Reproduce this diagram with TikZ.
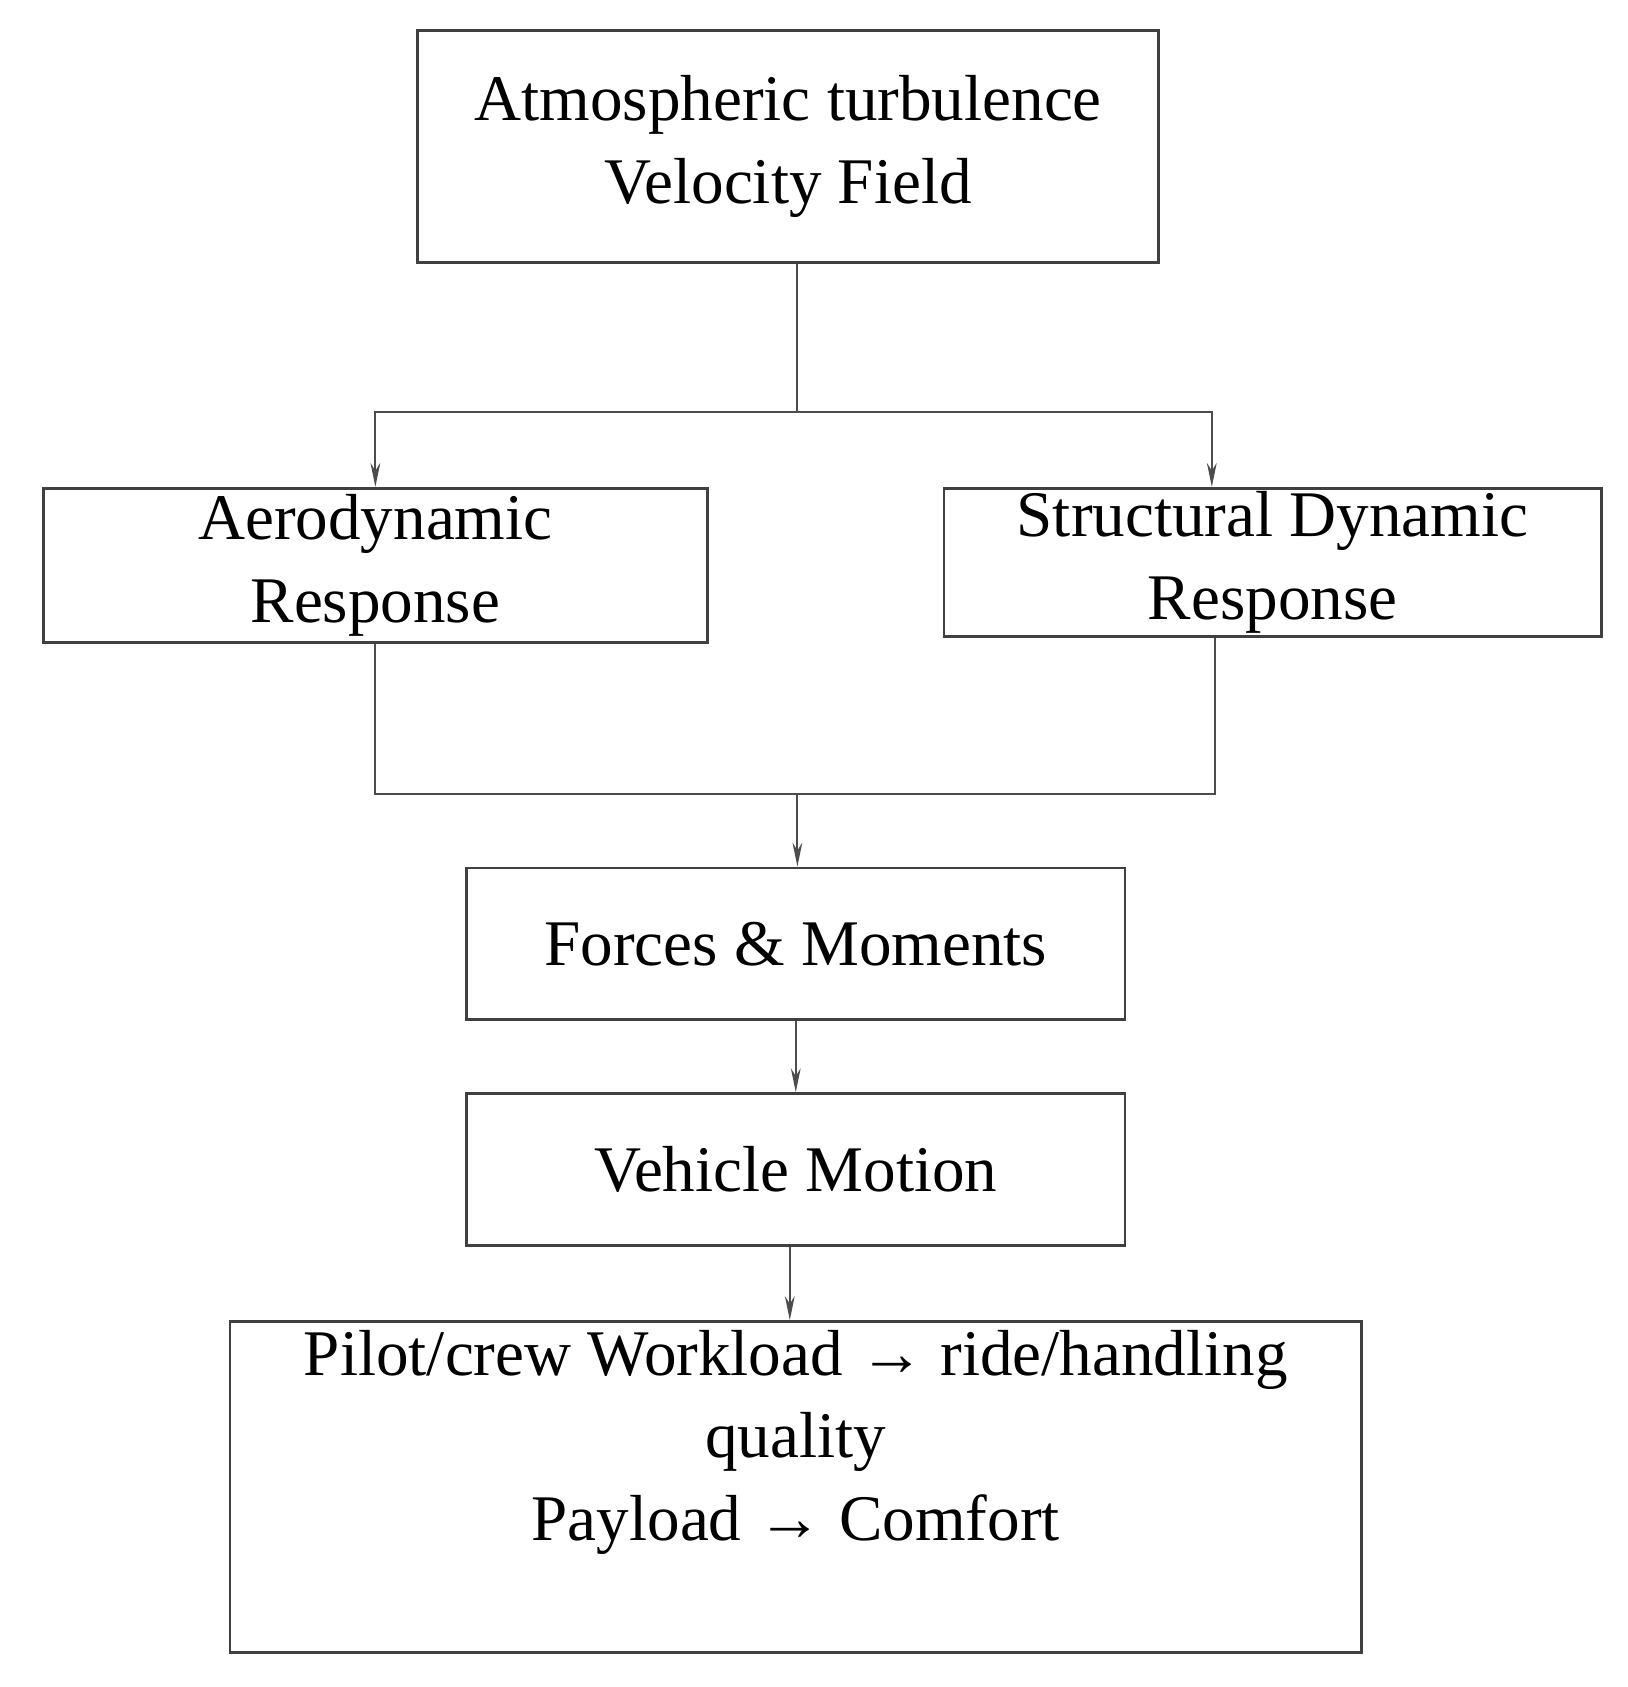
\documentclass[tikz,border=0pt]{standalone}
\usepackage{fontspec}
\setmainfont{Liberation Serif}
\usetikzlibrary{arrows.meta}
\tikzset{
  blk/.style={draw=black!75, line width=2.5pt, align=center, inner sep=0pt,
    font=\fontsize{60}{76}\selectfont},
  flow/.style={draw=black!70, line width=2pt},
  tip/.style={flow, -{Stealth[length=22pt,width=9pt]}}
}
\begin{document}
\begin{tikzpicture}[x=1pt,y=1pt,yscale=-1,xscale=1]
\useasboundingbox (0,0) rectangle (1500,1555);

% Boxes
\node[blk, minimum width=683, minimum height=214] (turb) at (726.5,135) {Atmospheric turbulence\\Velocity Field};
\node[blk, minimum width=612, minimum height=142] (aero) at (346,521) {Aerodynamic\\Response};
\node[blk, minimum width=606, minimum height=137] (struct) at (1173,518.5) {Structural Dynamic\\Response};
\node[blk, minimum width=607, minimum height=140] (force) at (733.5,870) {Forces \& Moments};
\node[blk, minimum width=607, minimum height=140] (motion) at (733.5,1078) {Vehicle Motion};
\node[blk, minimum width=1043, minimum height=305, text depth=95pt] (pilot) at (733.5,1370.5) {Pilot/crew Workload → ride/handling\\quality\\Payload → Comfort};

% Junctions
\coordinate (split) at (735,380);
\coordinate (join) at (735,732);

% Connectors
\draw[flow] (turb.south -| split) -- (split);
\draw[tip] (split) -| (aero.north);
\draw[tip] (split) -| (struct.north -| 1117,0);
\draw[flow] (aero.south) |- (join);
\draw[flow] (struct.south -| 1120,0) |- (join);
\draw[tip] (join) -- (force.north -| join);
\draw[tip] (force.south) -- (motion.north);
\draw[tip] (motion.south -| 728,0) -- (pilot.north -| 728,0);
\end{tikzpicture}
\end{document}
